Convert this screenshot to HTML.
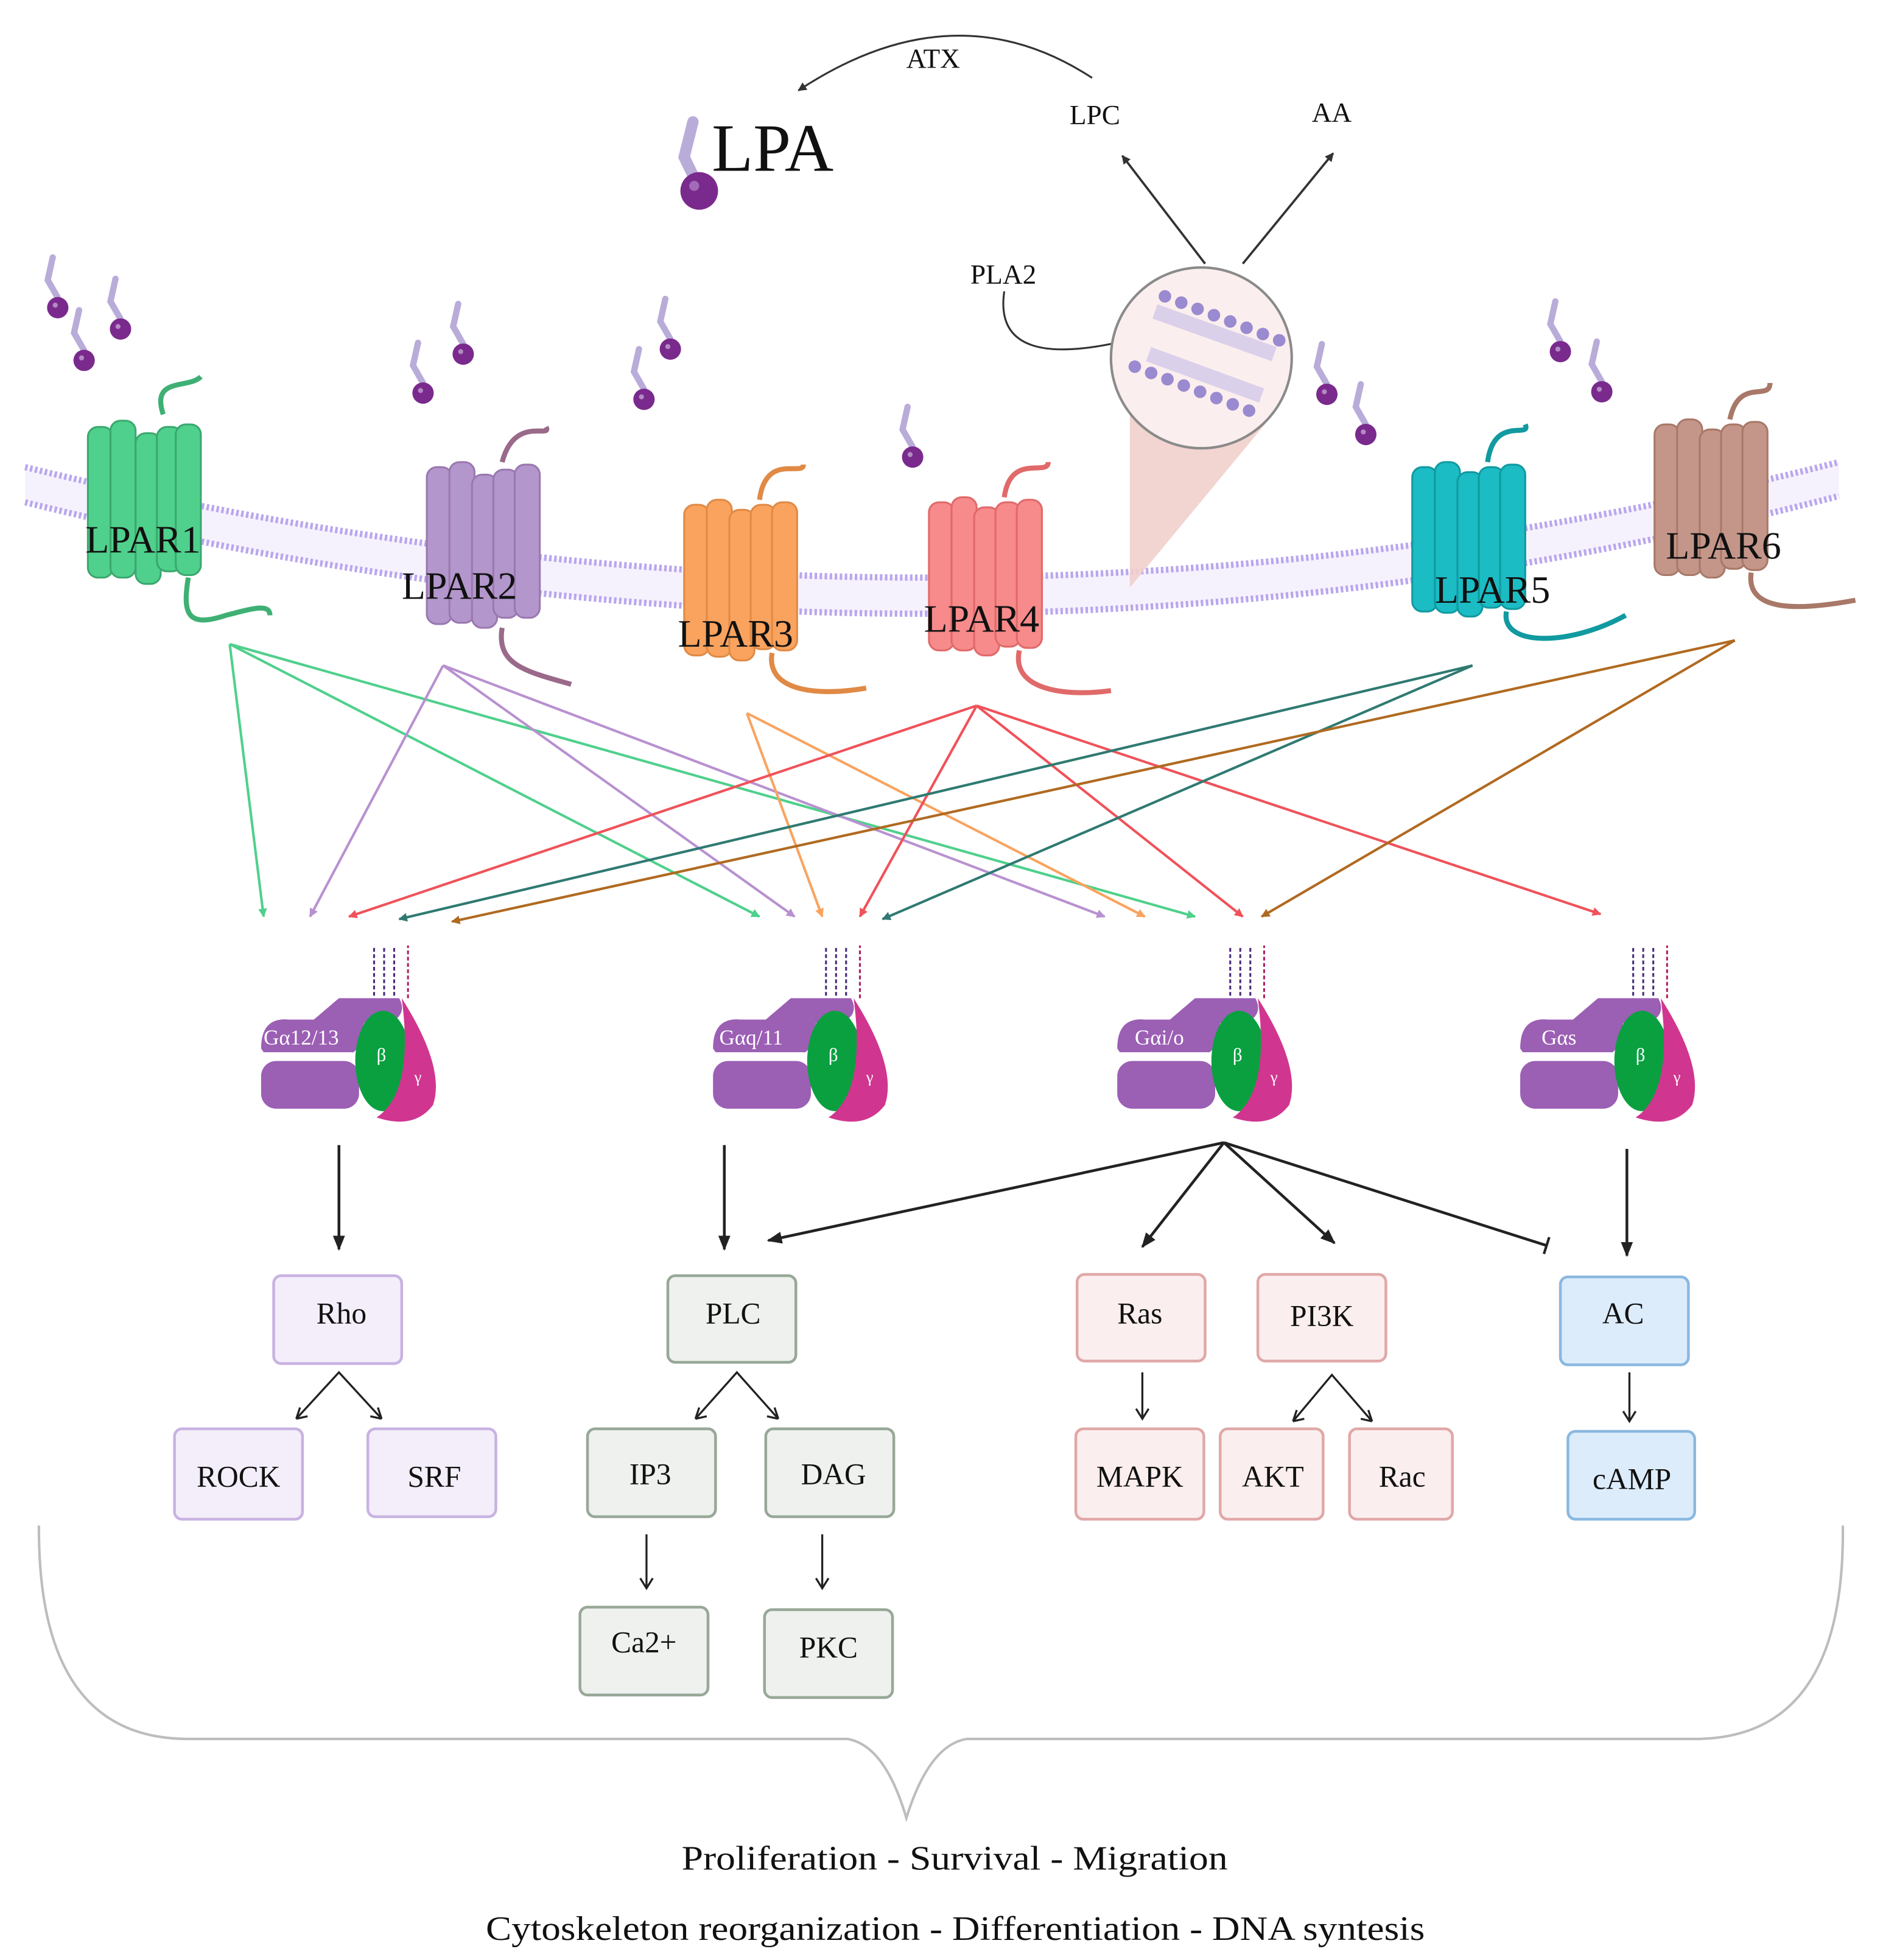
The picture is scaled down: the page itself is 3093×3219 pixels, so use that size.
<!DOCTYPE html>
<html><head><meta charset="utf-8"><style>
html,body{margin:0;padding:0;background:#fff}
svg{display:block}
text{font-family:"Liberation Serif",serif;fill:#111}
</style></head><body>
<svg width="3093" height="3219" viewBox="0 0 1500 1561" xmlns="http://www.w3.org/2000/svg">
<defs>
<marker id="mk" viewBox="0 0 10 10" refX="9" refY="5" markerWidth="7" markerHeight="7" orient="auto-start-reverse" markerUnits="userSpaceOnUse"><path d="M0,0 L10,5 L0,10 z" fill="context-stroke"/></marker>
<marker id="bk" viewBox="0 0 10 10" refX="9" refY="5" markerWidth="12" markerHeight="12" orient="auto" markerUnits="userSpaceOnUse"><path d="M0,1 L10,5 L0,9 z" fill="#222"/></marker>
<marker id="bar" viewBox="0 0 4 14" refX="2" refY="7" markerWidth="4" markerHeight="14" orient="auto" markerUnits="userSpaceOnUse"><rect x="1" y="0" width="2" height="14" fill="#222"/></marker>
<g id="mol"><path d="M0,-8 L-8,-22 L-4,-40" stroke="#b9acd9" stroke-width="5" fill="none" stroke-linecap="round"/><circle r="8.5" fill="#7a2a8c"/><circle cx="-2" cy="-2" r="2" fill="#b48ac4"/></g>
</defs>

<!-- membrane -->
<path d="M20,372 Q750,550 1465,368 L1465,395 Q750,580 20,400 Z" fill="#f6f2fd"/>
<path d="M20,372 Q750,550 1465,368" stroke="#b9a6ee" stroke-width="5" fill="none" stroke-dasharray="2 2"/>
<path d="M20,400 Q750,580 1465,395" stroke="#b9a6ee" stroke-width="5" fill="none" stroke-dasharray="2 2"/>

<!-- top LPA -->
<path d="M557,150 L545,125 L552,97" stroke="#b9acd9" stroke-width="9" fill="none" stroke-linecap="round"/>
<circle cx="557" cy="152" r="15" fill="#7a2a8c"/><circle cx="553" cy="148" r="4" fill="#a36ab8"/>
<text x="567" y="136" font-size="54">LPA</text>
<path d="M870,62 Q760,-10 636,72" stroke="#333" stroke-width="1.5" fill="none" marker-end="url(#mk)"/>
<text x="722" y="54" font-size="22">ATX</text>
<text x="852" y="99" font-size="22">LPC</text>
<text x="1045" y="97" font-size="22">AA</text>
<text x="773" y="226" font-size="22">PLA2</text>
<line x1="960" y1="210" x2="894" y2="124" stroke="#333" stroke-width="1.8" marker-end="url(#mk)"/>
<line x1="990" y1="210" x2="1062" y2="122" stroke="#333" stroke-width="1.8" marker-end="url(#mk)"/>
<path d="M800,232 Q790,300 910,268" stroke="#333" stroke-width="1.5" fill="none" marker-end="url(#mk)"/>
<polygon points="900,325 1010,335 900,468" fill="#f1cfcc" opacity="0.9"/>
<circle cx="957" cy="285" r="72" fill="#fbeeee" stroke="#8a8a8a" stroke-width="2"/>
<g fill="#9a8ad0">
<circle cx="928" cy="236" r="5"/><circle cx="941" cy="241" r="5"/><circle cx="954" cy="246" r="5"/><circle cx="967" cy="251" r="5"/><circle cx="980" cy="256" r="5"/><circle cx="993" cy="261" r="5"/><circle cx="1006" cy="266" r="5"/><circle cx="1019" cy="271" r="5"/>
<circle cx="904" cy="292" r="5"/><circle cx="917" cy="297" r="5"/><circle cx="930" cy="302" r="5"/><circle cx="943" cy="307" r="5"/><circle cx="956" cy="312" r="5"/><circle cx="969" cy="317" r="5"/><circle cx="982" cy="322" r="5"/><circle cx="995" cy="327" r="5"/>
</g>
<path d="M920,248 L1015,282 M915,282 L1005,315" stroke="#c7bde8" stroke-width="12" fill="none" opacity="0.6"/>

<!-- small LPA molecules -->
<use href="#mol" x="46" y="245"/><use href="#mol" x="67" y="287"/><use href="#mol" x="96" y="262"/>
<use href="#mol" x="337" y="313"/><use href="#mol" x="369" y="282"/><use href="#mol" x="513" y="318"/><use href="#mol" x="534" y="278"/>
<use href="#mol" x="727" y="364"/><use href="#mol" x="1057" y="314"/><use href="#mol" x="1088" y="346"/>
<use href="#mol" x="1243" y="280"/><use href="#mol" x="1276" y="312"/>

<!-- receptors -->
<g>
<path d="M130,330 C120,300 150,310 160,300 M150,460 C145,490 150,500 180,490 C200,485 215,480 215,490" stroke="#3fb074" stroke-width="4" fill="none"/>
<g fill="#4fd08c" stroke="#3aa86f" stroke-width="1.5">
<rect x="70" y="340" width="20" height="120" rx="8"/><rect x="88" y="335" width="20" height="125" rx="8"/><rect x="108" y="345" width="20" height="120" rx="8"/><rect x="125" y="340" width="20" height="115" rx="8"/><rect x="140" y="338" width="20" height="120" rx="8"/>
</g></g>
<g>
<g fill="#b396cc" stroke="#9a78b0" stroke-width="1.5">
<rect x="340" y="372" width="20" height="125" rx="8"/><rect x="358" y="368" width="20" height="128" rx="8"/><rect x="376" y="378" width="20" height="122" rx="8"/><rect x="393" y="374" width="20" height="118" rx="8"/><rect x="410" y="370" width="20" height="122" rx="8"/></g>
<path d="M400,368 C410,330 440,350 435,340 M400,500 C395,530 420,535 455,545" stroke="#9a6a8a" stroke-width="4" fill="none"/></g>
<g>
<g fill="#f9a35f" stroke="#e08a45" stroke-width="1.5">
<rect x="545" y="402" width="20" height="120" rx="8"/><rect x="563" y="398" width="20" height="125" rx="8"/><rect x="581" y="406" width="20" height="120" rx="8"/><rect x="598" y="402" width="20" height="115" rx="8"/><rect x="615" y="400" width="20" height="118" rx="8"/></g>
<path d="M605,398 C610,360 640,380 640,370 M615,520 C610,550 650,555 690,548" stroke="#e08a45" stroke-width="4" fill="none"/></g>
<g>
<g fill="#f78a8a" stroke="#e06a6a" stroke-width="1.5">
<rect x="740" y="400" width="20" height="118" rx="8"/><rect x="758" y="396" width="20" height="122" rx="8"/><rect x="776" y="404" width="20" height="118" rx="8"/><rect x="793" y="400" width="20" height="115" rx="8"/><rect x="810" y="398" width="20" height="118" rx="8"/></g>
<path d="M800,396 C805,360 835,380 835,368 M812,518 C805,550 850,555 885,550" stroke="#e06a6a" stroke-width="4" fill="none"/></g>
<g>
<g fill="#1bbcc4" stroke="#119aa0" stroke-width="1.5">
<rect x="1125" y="372" width="20" height="115" rx="8"/><rect x="1143" y="368" width="20" height="120" rx="8"/><rect x="1161" y="376" width="20" height="115" rx="8"/><rect x="1178" y="372" width="20" height="112" rx="8"/><rect x="1195" y="370" width="20" height="115" rx="8"/></g>
<path d="M1185,368 C1190,330 1220,350 1215,338 M1200,487 C1195,515 1250,515 1295,490" stroke="#119aa0" stroke-width="4" fill="none"/></g>
<g>
<g fill="#c4968a" stroke="#a87868" stroke-width="1.5">
<rect x="1318" y="338" width="20" height="120" rx="8"/><rect x="1336" y="334" width="20" height="124" rx="8"/><rect x="1354" y="342" width="20" height="118" rx="8"/><rect x="1371" y="338" width="20" height="115" rx="8"/><rect x="1388" y="336" width="20" height="118" rx="8"/></g>
<path d="M1378,334 C1385,300 1410,320 1410,305 M1395,456 C1390,490 1440,485 1478,478" stroke="#a87868" stroke-width="4" fill="none"/></g>

<g font-size="31">
<text x="68" y="440">LPAR1</text><text x="320" y="477">LPAR2</text><text x="540" y="515">LPAR3</text>
<text x="736" y="503">LPAR4</text><text x="1143" y="480">LPAR5</text><text x="1327" y="445">LPAR6</text></g>

<!-- coloured arrows -->
<g stroke-width="2" fill="none">
<g stroke="#4fd08c"><line x1="183" y1="513" x2="210" y2="730" marker-end="url(#mk)"/><line x1="183" y1="513" x2="605" y2="730" marker-end="url(#mk)"/><line x1="183" y1="513" x2="952" y2="730" marker-end="url(#mk)"/></g>
<g stroke="#b891d0"><line x1="353" y1="530" x2="247" y2="730" marker-end="url(#mk)"/><line x1="353" y1="530" x2="633" y2="730" marker-end="url(#mk)"/><line x1="353" y1="530" x2="880" y2="730" marker-end="url(#mk)"/></g>
<g stroke="#f9a35f"><line x1="595" y1="568" x2="655" y2="730" marker-end="url(#mk)"/><line x1="595" y1="568" x2="912" y2="730" marker-end="url(#mk)"/></g>
<g stroke="#f0525a"><line x1="778" y1="562" x2="278" y2="730" marker-end="url(#mk)"/><line x1="778" y1="562" x2="685" y2="730" marker-end="url(#mk)"/><line x1="778" y1="562" x2="990" y2="730" marker-end="url(#mk)"/><line x1="778" y1="562" x2="1275" y2="728" marker-end="url(#mk)"/></g>
<g stroke="#2f7a72"><line x1="1173" y1="530" x2="318" y2="732" marker-end="url(#mk)"/><line x1="1173" y1="530" x2="703" y2="732" marker-end="url(#mk)"/></g>
<g stroke="#b06a20"><line x1="1382" y1="510" x2="360" y2="734" marker-end="url(#mk)"/><line x1="1382" y1="510" x2="1005" y2="730" marker-end="url(#mk)"/></g>
</g>

<!-- G proteins -->
<g id="gp">
<path d="M298,793 l0,-40 M306,793 l0,-40 M314,793 l0,-40" stroke="#4a2a7a" stroke-width="1.5" stroke-dasharray="3 2"/>
<path d="M325,795 l0,-42" stroke="#b02060" stroke-width="1.5" stroke-dasharray="3 2"/>
<rect x="208" y="845" width="78" height="38" rx="12" fill="#9b5fb4"/>
<path d="M208,835 Q208,810 230,812 L250,812 L270,795 L318,795 Q325,808 310,815 L290,815 Q285,840 280,838 L210,838 Z" fill="#9b5fb4"/>
<ellipse cx="305" cy="845" rx="22" ry="40" fill="#0aa040"/>
<path d="M320,795 Q355,850 345,880 Q330,900 300,890 Q330,870 320,795 Z" fill="#d0368f"/>
<text x="300" y="845" font-size="15" style="fill:#fff">β</text>
<text x="330" y="862" font-size="13" style="fill:#fff">γ</text>
</g>
<use href="#gp" x="360"/><use href="#gp" x="682"/><use href="#gp" x="1003"/>
<g font-size="17" style="fill:#fff"><text x="210" y="832" style="fill:#fff">Gα12/13</text><text x="573" y="832" style="fill:#fff">Gαq/11</text><text x="904" y="832" style="fill:#fff">Gαi/o</text><text x="1228" y="832" style="fill:#fff">Gαs</text></g>

<!-- black arrows -->
<g stroke="#222" stroke-width="2.2" fill="none">
<line x1="270" y1="912" x2="270" y2="995" marker-end="url(#bk)"/>
<line x1="577" y1="912" x2="577" y2="995" marker-end="url(#bk)"/>
<line x1="975" y1="910" x2="612" y2="988" marker-end="url(#bk)"/>
<line x1="975" y1="910" x2="910" y2="993" marker-end="url(#bk)"/>
<line x1="975" y1="910" x2="1063" y2="990" marker-end="url(#bk)"/>
<line x1="975" y1="910" x2="1232" y2="992" marker-end="url(#bar)"/>
<line x1="1296" y1="915" x2="1296" y2="1000" marker-end="url(#bk)"/>
</g>
<g stroke="#222" stroke-width="1.6" fill="none">
<polyline points="236,1130 270,1093 304,1130"/><path d="M236,1130 l3,-9 M236,1130 l9,-2 M304,1130 l-3,-9 M304,1130 l-9,-2"/>
<polyline points="554,1130 587,1093 620,1130"/><path d="M554,1130 l3,-9 M554,1130 l9,-2 M620,1130 l-3,-9 M620,1130 l-9,-2"/>
<polyline points="1030,1132 1061,1095 1093,1132"/><path d="M1030,1132 l3,-9 M1030,1132 l9,-2 M1093,1132 l-3,-9 M1093,1132 l-9,-2"/>
<line x1="910" y1="1093" x2="910" y2="1130"/><path d="M905,1122 l5,8 l5,-8"/>
<line x1="1298" y1="1093" x2="1298" y2="1132"/><path d="M1293,1124 l5,8 l5,-8"/>
<line x1="515" y1="1222" x2="515" y2="1265"/><path d="M510,1257 l5,8 l5,-8"/>
<line x1="655" y1="1222" x2="655" y2="1265"/><path d="M650,1257 l5,8 l5,-8"/>
</g>

<!-- boxes -->
<g stroke-width="2.2">
<g fill="#f3eef9" stroke="#c8b2e2"><rect x="218" y="1016" width="102" height="70" rx="6"/><rect x="139" y="1138" width="102" height="72" rx="6"/><rect x="293" y="1138" width="102" height="70" rx="6"/></g>
<g fill="#eef1ee" stroke="#98a898"><rect x="532" y="1016" width="102" height="69" rx="6"/><rect x="468" y="1138" width="102" height="70" rx="6"/><rect x="610" y="1138" width="102" height="70" rx="6"/><rect x="462" y="1280" width="102" height="70" rx="6"/><rect x="609" y="1282" width="102" height="70" rx="6"/></g>
<g fill="#fbeeee" stroke="#e0a8a8"><rect x="858" y="1015" width="102" height="69" rx="6"/><rect x="1002" y="1015" width="102" height="69" rx="6"/><rect x="857" y="1138" width="102" height="72" rx="6"/><rect x="972" y="1138" width="82" height="72" rx="6"/><rect x="1075" y="1138" width="82" height="72" rx="6"/></g>
<g fill="#dcecfb" stroke="#8ab8e0"><rect x="1243" y="1017" width="102" height="70" rx="6"/><rect x="1249" y="1140" width="101" height="70" rx="6"/></g>
</g>
<g font-size="24" text-anchor="middle">
<text x="272" y="1054">Rho</text><text x="190" y="1184">ROCK</text><text x="346" y="1184">SRF</text>
<text x="584" y="1054">PLC</text><text x="518" y="1182">IP3</text><text x="664" y="1182">DAG</text><text x="513" y="1316">Ca2+</text><text x="660" y="1320">PKC</text>
<text x="908" y="1054">Ras</text><text x="1053" y="1056">PI3K</text><text x="908" y="1184">MAPK</text><text x="1014" y="1184">AKT</text><text x="1117" y="1184">Rac</text>
<text x="1293" y="1054">AC</text><text x="1300" y="1186">cAMP</text>
</g>

<!-- brace -->
<path d="M31,1215 Q30,1385 150,1385 L675,1385 Q705,1390 722,1448 Q740,1390 770,1385 L1350,1385 Q1470,1385 1468,1215" stroke="#bdbdbd" stroke-width="2" fill="none"/>

<g font-size="27">
<text x="543" y="1489" textLength="435" lengthAdjust="spacingAndGlyphs">Proliferation - Survival - Migration</text>
<text x="387" y="1545" textLength="748" lengthAdjust="spacingAndGlyphs">Cytoskeleton reorganization - Differentiation - DNA syntesis</text>
</g>
</svg>
</body></html>
